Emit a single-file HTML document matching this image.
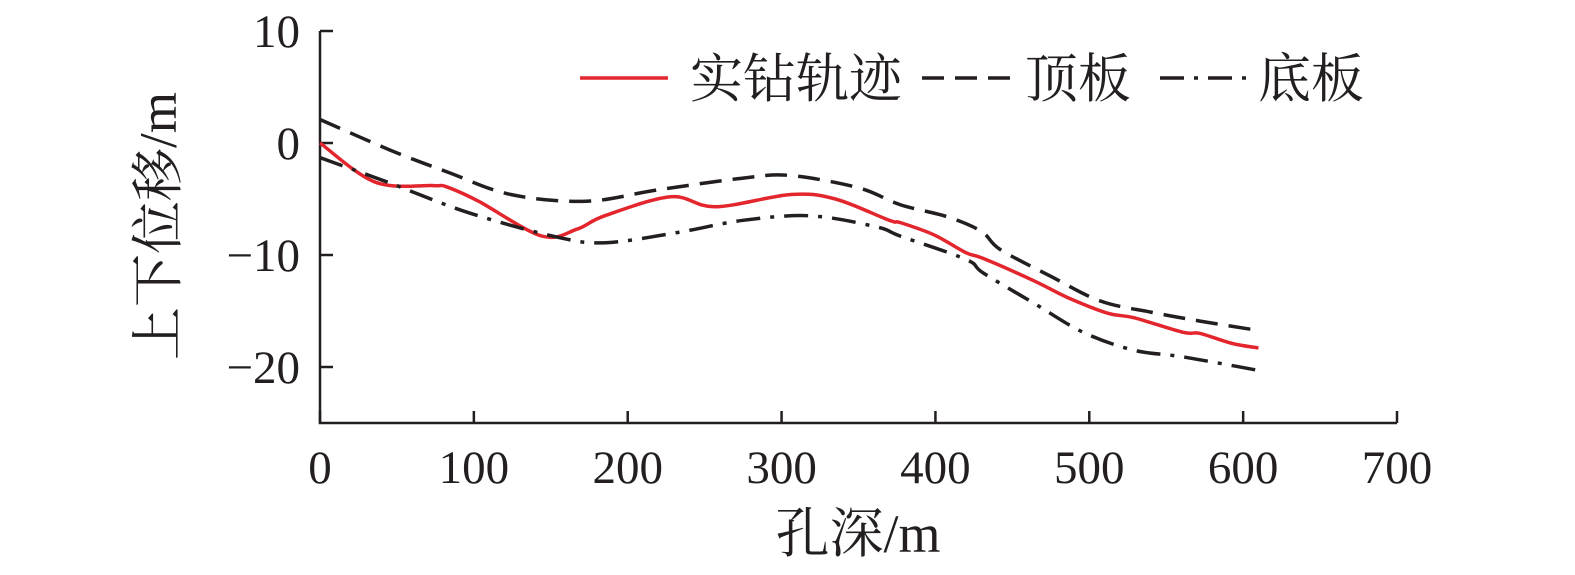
<!DOCTYPE html>
<html><head><meta charset="utf-8"><style>
body{margin:0;background:#fff}
svg text{font-family:"Liberation Serif","Noto Serif CJK SC",serif;fill:#231f20}
</style></head><body>
<svg id="chart" width="1575" height="570" xmlns="http://www.w3.org/2000/svg"></svg>
<script>
const xTicks=[0,100,200,300,400,500,600,700];
const yTicks=[10,0,-10,-20];
const drillX=[0,36,74,82,103,144,167,185,228,257,306,335,370,377,399,420,431,464,486,512,529,561,572,593,610];
const drillY=[0,-3.5,-3.8,-3.9,-5.2,-8.3,-7.7,-6.5,-4.8,-5.7,-4.6,-5.0,-6.9,-7.1,-8.2,-9.8,-10.3,-12.3,-13.8,-15.2,-15.6,-16.9,-17.0,-17.9,-18.3];
const roofX=[0,45,83,124,173,219,277,306,350,377,408,430,442,475,507,540,572,608];
const roofY=[2.1,-0.6,-2.6,-4.6,-5.2,-4.2,-3.1,-2.9,-4.0,-5.5,-6.6,-7.9,-9.5,-11.9,-14.1,-15.1,-15.9,-16.7];
const floorX=[0,44,96,154,186,232,275,319,362,377,420,431,464,496,529,561,610];
const floorY=[-1.3,-3.5,-6.2,-8.4,-8.9,-8.0,-6.9,-6.5,-7.5,-8.3,-10.4,-11.6,-14.3,-16.9,-18.5,-19.1,-20.3];
const NS='http://www.w3.org/2000/svg';
const svg=document.getElementById('chart');
const X0=320,X1=1397,Y0=31,Y1=423;
const sx=v=>X0+(v-0)/700*(X1-X0);
const sy=v=>Y0+(10-v)/35*(Y1-Y0);
function mk(tag,attrs,parent){const e=document.createElementNS(NS,tag);for(const k in attrs)e.setAttribute(k,attrs[k]);(parent||svg).appendChild(e);return e;}
const axes=mk('path',{d:`M${X0},${Y0}V${Y1}H${X1}`,stroke:'#231f20','stroke-width':2.5,fill:'none'});


xTicks.forEach(t=>{
 const l=mk('line',{x1:sx(t),x2:sx(t),y1:Y1,y2:Y1-12,stroke:'#231f20','stroke-width':2.5});
 
 
 const tx=mk('text',{x:sx(t),y:483,'text-anchor':'middle','font-size':47});tx.textContent=t;
 
 
});
yTicks.forEach(t=>{
 const l=mk('line',{x1:X0,x2:X0+13,y1:sy(t),y2:sy(t),stroke:'#231f20','stroke-width':2.5});
 
 
 const tx=mk('text',{x:300,y:sy(t)+16,'text-anchor':'end','font-size':47});tx.textContent=t<0?'−'+(-t):t;
 
 
});
function path(xs,ys){
 const p=xs.map((x,i)=>[sx(x),sy(ys[i])]);
 let d='M'+p[0][0].toFixed(1)+','+p[0][1].toFixed(1);
 for(let i=0;i<p.length-1;i++){
  const a=p[i-1]||p[i],b=p[i],c=p[i+1],e=p[i+2]||c;
  const c1=[b[0]+(c[0]-a[0])/6,b[1]+(c[1]-a[1])/6],c2=[c[0]-(e[0]-b[0])/6,c[1]-(e[1]-b[1])/6];
  d+=`C${c1[0].toFixed(1)},${c1[1].toFixed(1)} ${c2[0].toFixed(1)},${c2[1].toFixed(1)} ${c[0].toFixed(1)},${c[1].toFixed(1)}`;
 }
 return d;
}
const r=mk('path',{d:path(drillX,drillY),stroke:'#e3262d','stroke-width':3.5,fill:'none','stroke-linejoin':'round'});


const rf=mk('path',{d:path(roofX,roofY),stroke:'#231f20','stroke-width':3.5,fill:'none','stroke-dasharray':'22 11'});


const fl=mk('path',{d:path(floorX,floorY),stroke:'#231f20','stroke-width':3.5,fill:'none','stroke-dasharray':'24 10 4 10'});


const xt=mk('text',{x:858,y:552,'text-anchor':'middle','font-size':54});xt.textContent='孔深/m';


const yt=mk('text',{x:0,y:0,'text-anchor':'middle','font-size':53,transform:'translate(176,226) rotate(-90)'});yt.textContent='上下位移/m';


const lg=[['实钻轨迹','#e3262d',null,580,690],['顶板','#231f20','22 11',922,1025],['底板','#231f20','24 10 4 10',1160,1258]];
lg.forEach(([name,c,d,lx,tx])=>{
 const a={x1:lx,x2:lx+88,y1:78,y2:78,stroke:c,'stroke-width':3.5};if(d)a['stroke-dasharray']=d;
 const l=mk('line',a);
 
 
 const t=mk('text',{x:tx,y:97,'font-size':53});t.textContent=name;
 
 
});
</script>
</body></html>
